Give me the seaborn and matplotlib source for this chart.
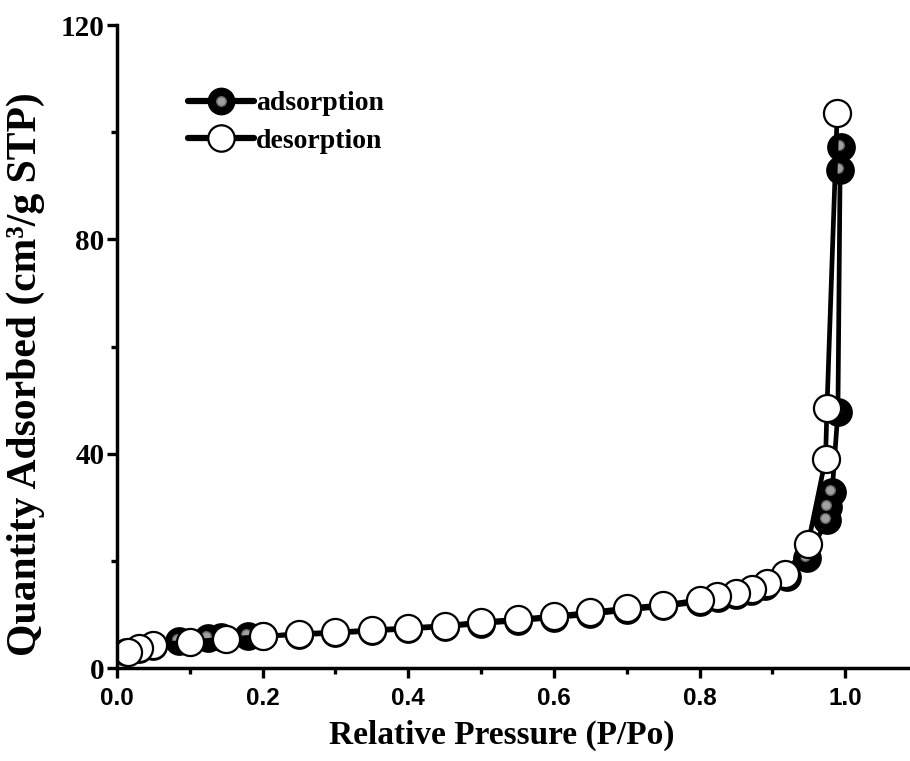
import matplotlib
matplotlib.use("Agg")
import matplotlib.pyplot as plt
import matplotlib.transforms as mtransforms
from matplotlib.legend_handler import HandlerTuple
from matplotlib.lines import Line2D
import seaborn as sns
import pandas as pd

# ---- data ----
ads_x = [0.012, 0.03, 0.05, 0.085, 0.125, 0.143, 0.18, 0.20, 0.25, 0.30, 0.35, 0.40,
         0.45, 0.50, 0.55, 0.60, 0.65, 0.70, 0.75, 0.80, 0.825, 0.85, 0.87, 0.89,
         0.92, 0.948, 0.975, 0.977, 0.982, 0.990, 0.993, 0.994]
ads_y = [2.9, 3.6, 4.2, 5.1, 5.6, 5.8, 6.0, 6.0, 6.2, 6.5, 6.9, 7.3,
         7.7, 8.3, 8.8, 9.4, 10.0, 10.8, 11.5, 12.3, 13.0, 13.6, 14.3, 15.3,
         16.9, 20.5, 27.6, 30.0, 32.8, 47.8, 93.0, 97.2]
des_x = [0.989, 0.975, 0.973, 0.949, 0.918, 0.893, 0.872, 0.85, 0.824, 0.80, 0.75,
         0.70, 0.65, 0.60, 0.55, 0.50, 0.45, 0.40, 0.35, 0.30, 0.25, 0.20, 0.15,
         0.10, 0.05, 0.03, 0.015]
des_y = [103.5, 48.6, 39.0, 23.2, 17.6, 15.9, 14.7, 14.0, 13.4, 12.7, 11.8,
         11.2, 10.4, 9.7, 9.1, 8.6, 7.9, 7.5, 7.1, 6.7, 6.4, 5.9, 5.4,
         4.9, 4.3, 3.7, 3.0]
x_ticks = [0.0, 0.2, 0.4, 0.6, 0.8, 1.0]
x_ticklabels = ["0.0", "0.2", "0.4", "0.6", "0.8", "1.0"]
y_ticks = [0, 40, 80, 120]
y_ticklabels = ["0", "40", "80", "120"]
series_names = ["adsorption", "desorption"]

sns.set_style("ticks", {"axes.edgecolor": "black", "xtick.color": "black",
                        "ytick.color": "black", "text.color": "black",
                        "axes.labelcolor": "black"})
plt.rcParams["font.family"] = ["Liberation Serif", "DejaVu Serif"]

fig = plt.figure(figsize=(9.10, 7.61), dpi=100)
ax = fig.add_axes([0.1286, 0.1222, 0.8714, 0.8449])

ads = pd.DataFrame({"x": ads_x, "y": ads_y})
des = pd.DataFrame({"x": des_x, "y": des_y})

ms = 19.5
lw = 3.4
sns.lineplot(data=ads, x="x", y="y", sort=False, ax=ax, color="black", lw=lw,
             marker="o", markersize=ms, markerfacecolor="black",
             markeredgecolor="black", markeredgewidth=1.2, zorder=3)
hl = mtransforms.offset_copy(ax.transData, fig=fig, x=-2, y=2, units="dots")
ax.plot(ads["x"], ads["y"], ls="none", marker="o", markersize=7,
        markerfacecolor="#a0a0a0", markeredgecolor="#606060", markeredgewidth=1.0,
        transform=hl, zorder=3.5)
sns.lineplot(data=des, x="x", y="y", sort=False, ax=ax, color="black", lw=lw,
             marker="o", markersize=ms, markerfacecolor="white",
             markeredgecolor="black", markeredgewidth=1.6, zorder=4)

ax.set_xlim(0, 1.089)
ax.set_ylim(0, 120)
ax.set_xticks(x_ticks)
ax.set_xticklabels(x_ticklabels, family=["Liberation Sans"], fontweight="bold", fontsize=17.5)
ax.set_yticks(y_ticks)
ax.set_yticklabels(y_ticklabels, fontweight="bold", fontsize=21)
ax.set_xticks([0.1, 0.3, 0.5, 0.7, 0.9], minor=True)
ax.set_yticks([20, 60, 100], minor=True)
ax.tick_params(which="major", length=7, width=2.4, direction="out")
ax.tick_params(axis="x", which="major", pad=7)
ax.tick_params(axis="y", which="major", pad=2)
ax.tick_params(which="minor", length=4, width=2.4, direction="out")

for s in ["top", "right"]:
    ax.spines[s].set_visible(False)
for s in ["left", "bottom"]:
    ax.spines[s].set_linewidth(2.5)
    ax.spines[s].set_zorder(5)

ax.set_xlabel("Relative Pressure (P/Po)", fontsize=24, fontweight="bold")
ax.set_ylabel("Quantity Adsorbed (cm³/g STP)", fontsize=30, fontweight="bold")
ax.xaxis.set_label_coords(0.485, -0.08)
ax.yaxis.set_label_coords(-0.091, 0.457)

h_ads = Line2D([], [], color="black", lw=4.5, marker="o", markersize=19,
               markerfacecolor="black", markeredgecolor="black")
h_hl = Line2D([], [], ls="none", marker="o", markersize=7,
              markerfacecolor="#a0a0a0", markeredgecolor="#606060")
h_des = Line2D([], [], color="black", lw=4.5, marker="o", markersize=19,
               markerfacecolor="white", markeredgecolor="black", markeredgewidth=1.6)
ax.legend([(h_ads, h_hl), h_des], series_names,
          handler_map={tuple: HandlerTuple(ndivide=1)},
          loc="upper left", bbox_to_anchor=(0.075, 0.915), frameon=False,
          prop={"weight": "bold", "size": 20}, handlelength=2.4,
          handletextpad=0.05, labelspacing=0.45, borderaxespad=0)

fig.savefig("out.png", dpi=100)
